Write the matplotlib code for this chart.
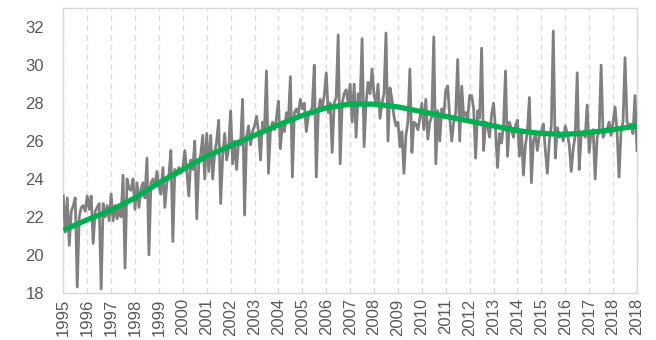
import matplotlib
matplotlib.use("Agg")
import matplotlib.pyplot as plt
import numpy as np

# ============== PLT Configuration ================
plt.rcParams.update(
    {
        "font.family": ["Liberation Sans", "DejaVu Sans"],
        "font.size": 12,
        "figure.dpi": 100,
    }
)

# ============== Data (monthly) ====================================
Y1995 = [23.1, 21.2, 23.0, 20.5, 22.3, 22.6, 23.0, 18.3, 22.0, 22.5, 22.6, 22.3]
Y1996 = [23.1, 22.4, 23.1, 20.6, 22.3, 22.5, 22.7, 18.2, 22.7, 22.0, 22.6, 21.8]
Y1997 = [23.2, 21.8, 22.6, 21.9, 22.4, 22.0, 24.2, 19.3, 24.0, 23.5, 23.4, 24.0]
Y1998 = [22.4, 23.8, 22.5, 23.5, 23.8, 23.0, 25.1, 20.0, 23.8, 24.0, 23.6, 24.4]
Y1999 = [23.6, 23.2, 24.6, 22.5, 23.8, 24.2, 25.5, 20.7, 24.5, 24.2, 24.6, 24.3]
Y2000 = [24.6, 25.5, 24.4, 23.1, 25.0, 24.5, 26.0, 21.9, 24.8, 25.3, 26.3, 24.0]
Y2001 = [26.4, 24.4, 26.3, 24.0, 25.4, 26.0, 27.1, 22.7, 25.2, 26.4, 25.0, 25.6]
Y2002 = [27.6, 24.8, 26.0, 24.5, 26.0, 25.8, 28.2, 22.1, 26.2, 26.8, 25.8, 26.5]
Y2003 = [26.8, 27.3, 26.5, 25.0, 27.0, 26.6, 29.7, 24.3, 26.6, 27.0, 26.6, 27.2]
Y2004 = [28.1, 25.6, 27.0, 26.5, 27.5, 27.0, 29.4, 24.1, 27.5, 27.7, 27.4, 28.2]
Y2005 = [27.7, 28.0, 26.5, 27.3, 27.5, 27.8, 30.0, 24.1, 27.5, 28.2, 27.8, 28.4]
Y2006 = [29.6, 27.5, 28.0, 25.4, 28.0, 28.3, 31.6, 24.8, 28.0, 28.5, 28.7, 28.0]
Y2007 = [29.0, 27.0, 29.0, 26.2, 28.5, 28.0, 31.4, 25.7, 28.0, 29.1, 28.5, 29.8]
Y2008 = [28.4, 28.0, 29.0, 27.2, 28.0, 28.5, 31.7, 26.0, 28.8, 28.2, 27.3, 26.8]
Y2009 = [27.0, 25.7, 26.5, 24.3, 26.3, 27.0, 29.8, 25.4, 27.0, 26.9, 26.6, 27.2]
Y2010 = [28.0, 26.6, 28.2, 26.1, 27.0, 27.3, 31.5, 24.8, 27.6, 26.0, 27.7, 27.3]
Y2011 = [28.7, 28.9, 27.2, 26.0, 27.0, 27.5, 30.3, 26.0, 28.9, 27.3, 27.5, 27.2]
Y2012 = [28.4, 28.4, 27.7, 25.1, 27.6, 27.2, 30.9, 25.5, 27.0, 26.8, 26.2, 27.4]
Y2013 = [28.0, 26.6, 24.6, 26.4, 25.9, 26.8, 29.7, 25.2, 27.0, 26.6, 26.2, 26.8]
Y2014 = [27.1, 25.2, 26.5, 24.2, 25.8, 26.5, 28.3, 23.8, 26.0, 26.4, 25.5, 26.3]
Y2015 = [26.5, 26.9, 25.5, 24.3, 26.0, 26.8, 31.8, 25.1, 26.7, 26.2, 26.4, 26.0]
Y2016 = [26.8, 26.4, 25.8, 24.4, 25.6, 26.3, 29.6, 24.5, 26.3, 26.5, 26.2, 27.9]
Y2017 = [25.4, 26.5, 26.6, 24.0, 26.2, 26.5, 30.0, 26.2, 26.5, 26.6, 27.0, 26.3]
Y2018 = [27.0, 27.8, 26.5, 24.1, 26.5, 27.0, 30.4, 27.0, 26.8, 26.9, 26.4, 28.4]
LAST = [25.5]

# trend line values at the start of each year (and the end)
TREND = [21.3, 21.85, 22.35, 23.0, 23.8, 24.5, 25.2, 25.75, 26.3, 26.85,
         27.35, 27.75, 27.95, 27.95, 27.8, 27.55, 27.3, 27.05, 26.8, 26.55,
         26.4, 26.35, 26.45, 26.6, 26.8]

YEAR_LABELS = [str(y) for y in range(1995, 2019)] + ["2018"]

# ============== Build series ================
monthly = np.array(
    Y1995 + Y1996 + Y1997 + Y1998 + Y1999 + Y2000 + Y2001 + Y2002
    + Y2003 + Y2004 + Y2005 + Y2006 + Y2007 + Y2008 + Y2009 + Y2010
    + Y2011 + Y2012 + Y2013 + Y2014 + Y2015 + Y2016 + Y2017 + Y2018 + LAST
)
x = np.arange(len(monthly))
x_trend = np.arange(len(TREND)) * 12
x_ticks = np.arange(len(YEAR_LABELS)) * 12

# ============== Plot ================
fig = plt.figure(figsize=(6.56, 3.40))
ax = fig.add_axes([0.0965, 0.139, 0.8745, 0.8365])

ax.plot(x, monthly, color="#808080", linewidth=2.0, zorder=3)
ax.plot(x_trend, TREND, color="#00b050", linewidth=3.8, zorder=4,
        solid_capstyle="butt")

ax.set_xlim(0, x[-1])
ax.set_ylim(18, 33)
ax.set_yticks(np.arange(18, 33, 2))
ax.set_xticks(x_ticks)
ax.set_xticklabels(YEAR_LABELS, rotation=90, ha="center", va="top")

ax.grid(axis="x", color="#dcdcdc", linestyle=(0, (4, 3)), linewidth=1.0, zorder=0)
ax.tick_params(axis="both", length=0, colors="#595959", labelsize=12)
ax.tick_params(axis="y", pad=14)
ax.tick_params(axis="x", pad=4)

for side in ["left", "bottom", "top", "right"]:
    ax.spines[side].set_color("#d9d9d9")
    ax.spines[side].set_linewidth(1.0)

fig.savefig("out.png", dpi=100)
